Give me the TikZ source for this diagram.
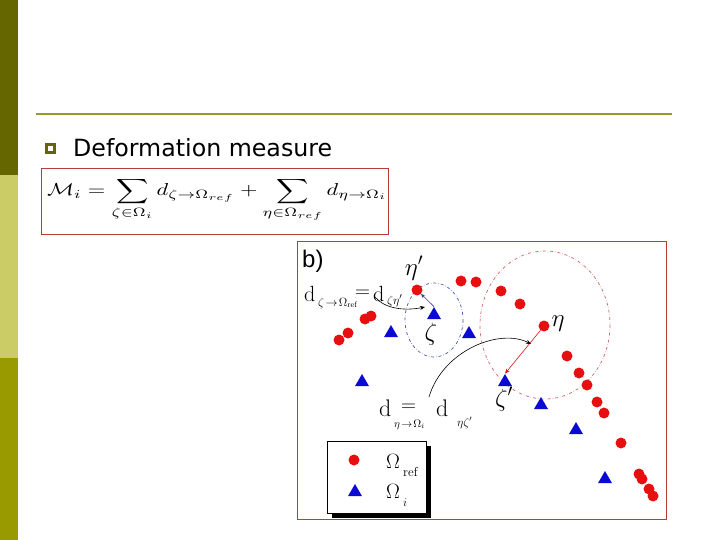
\documentclass[tikz,border=0pt]{standalone}
\usepackage{fontspec}
\usepackage{amsmath}
\newfontfamily\verd{DejaVu Sans}
\newfontfamily\arl{Liberation Sans}
\usetikzlibrary{shapes.geometric,arrows.meta}
\definecolor{darkol}{HTML}{666600}
\definecolor{lightol}{HTML}{CCCC66}
\definecolor{midol}{HTML}{999900}
\definecolor{ruleol}{HTML}{999933}
\definecolor{frame}{RGB}{185,60,60}
\definecolor{dotred}{RGB}{230,16,16}
\definecolor{triblue}{RGB}{10,10,210}
\definecolor{ellblue}{RGB}{80,80,170}
\definecolor{ellred}{RGB}{210,100,100}
\tikzset{
  dotr/.style={circle,fill=dotred,minimum size=11pt,inner sep=0pt},
  trib/.style={regular polygon,regular polygon sides=3,fill=triblue,minimum size=16pt,inner sep=0pt},
  lbl/.style={inner sep=0pt,font=\fontsize{25}{27}\selectfont},
  txt/.style={anchor=base west,inner sep=0pt},
  curvarrow/.style={black,line width=0.6pt,-{Stealth[length=5pt,width=4pt]}},
  framebox/.style={draw=frame,line width=0.8pt},
  dashellipse/.style={dash dot,line width=0.7pt}
}
\begin{document}
\begin{tikzpicture}[x=1pt,y=-1pt]
\useasboundingbox (0,0) rectangle (720,540);
% sidebar
\fill[darkol] (0,0) rectangle (18,175);
\fill[lightol] (0,175) rectangle (18,358);
\fill[midol] (0,358) rectangle (18,540);
% rule
\draw[ruleol,line width=2pt] (36,114) -- (672,114);
% bullet
\draw[darkol,line width=2.6pt] (46.5,144.5) rectangle (54.5,152.5);
\node[txt] (title) at (73,157)
  {\resizebox{259pt}{!}{\verd\fontsize{20}{24}\selectfont Deformation measure}};
% formula box
\draw[framebox] (41,168) rectangle (388,234);
\node[anchor=west,inner sep=0pt] (formula) at (47,199.5)
  {\resizebox*{340pt}{44pt}{$\displaystyle \mathcal{M}_i=\sum_{\zeta\in\Omega_i} d_{\zeta\to\Omega_{ref}}+\sum_{\eta\in\Omega_{ref}} d_{\eta\to\Omega_i}$}};
% diagram frame
\draw[framebox] (297,241) rectangle (666,519);
\node[txt,font=\arl\fontsize{24}{26}\selectfont] (blab) at (302,267) {b)};
% ellipses
\draw[ellblue,dashellipse] (434,320) ellipse [x radius=29,y radius=37];
\draw[ellred,dashellipse] (545,325) ellipse [x radius=65,y radius=74];
% red dots
\node[dotr] (etap) at (417,290) {};
\node[dotr] (r1) at (461,281) {};
\node[dotr] (r2) at (476,282) {};
\node[dotr] (r3) at (365,319) {};
\node[dotr] (r4) at (371,316) {};
\node[dotr] (r5) at (339,340) {};
\node[dotr] (r6) at (348,333) {};
\node[dotr] (r7) at (501,291) {};
\node[dotr] (r8) at (520,304) {};
\node[dotr] (eta) at (544,326) {};
\node[dotr] (r9) at (567,356) {};
\node[dotr] (r10) at (579,373) {};
\node[dotr] (r11) at (587,385) {};
\node[dotr] (r12) at (597,402) {};
\node[dotr] (r13) at (604,413) {};
\node[dotr] (r14) at (621,443) {};
\node[dotr] (r15) at (639,474) {};
\node[dotr] (r16) at (642,479) {};
\node[dotr] (r17) at (649,489) {};
\node[dotr] (r18) at (653,496) {};
% blue triangles
\node[trib] (zeta) at (434,315) {};
\node[trib] (t1) at (391,333) {};
\node[trib] (t2) at (469,334) {};
\node[trib] (t3) at (362,382) {};
\node[trib] (zetap) at (505,382) {};
\node[trib] (t4) at (541,405) {};
\node[trib] (t5) at (576,430) {};
\node[trib] (t6) at (605,479) {};
% straight arrows
\draw[ellblue!80!black,line width=0.6pt,-{Stealth[length=4pt,width=3.5pt]}] (zeta.north) -- (etap);
\draw[dotred,line width=0.6pt,-{Stealth[length=5pt,width=4pt]}] (eta) -- (zetap.north);
% greek labels
\node[lbl,anchor=base] (lbetap) at (414,275) {$\eta'$};
\node[lbl,anchor=base] (lbzeta) at (431,340) {$\zeta$};
\node[lbl,anchor=base] (lbeta) at (558,326) {$\eta$};
\node[lbl,anchor=base] (lbzetap) at (504,406) {$\zeta'$};
% first distance label
\node[txt,font=\fontsize{22}{24}\selectfont] (d1) at (304,301) {$\mathrm{d}$};
\node[txt,font=\fontsize{12}{13}\selectfont] (d1s) at (318,306) {$\zeta\!\to\!\Omega_{\mathrm{ref}}$};
\node[txt,font=\fontsize{22}{24}\selectfont] (d1e) at (355,297) {$=$};
\node[txt,font=\fontsize{22}{24}\selectfont] (d1b) at (373,301) {$\mathrm{d}$};
\node[txt,font=\fontsize{13}{14}\selectfont] (d1bs) at (387,304) {$\zeta\eta'$};
% second distance label
\node[txt,font=\fontsize{24}{26}\selectfont] (d2) at (379,416) {$\mathrm{d}$};
\node[txt,font=\fontsize{11}{12}\selectfont] (d2s) at (394,427) {$\eta\!\to\!\Omega_{i}$};
\node[txt,font=\fontsize{22}{24}\selectfont] (d2e) at (401,411) {$=$};
\node[txt,font=\fontsize{24}{26}\selectfont] (d2b) at (436,416) {$\mathrm{d}$};
\node[txt,font=\fontsize{12}{13}\selectfont] (d2bs) at (457,426) {$\eta\zeta'$};
% curved arrows
\coordinate (c1s) at (375,297);
\coordinate (c1e) at (425,307);
\draw[curvarrow] (c1s) .. controls (385,309) and (405,311) .. (c1e);
\coordinate (c2s) at (429,397);
\coordinate (c2e) at (531,344);
\draw[curvarrow] (c2s) .. controls (443,350) and (500,328) .. (c2e);
% legend
\fill[black] (332,446) rectangle (431,518);
\draw[black,fill=white,line width=0.8pt] (327,441) rectangle (426,513);
\node[dotr] (legdot) at (354,460) {};
\node[trib] (legtri) at (355,492) {};
\node[txt,font=\fontsize{22}{24}\selectfont] (legref) at (386,468) {$\Omega$};
\node[txt,font=\fontsize{13}{14}\selectfont] (legrefs) at (403,476) {ref};
\node[txt,font=\fontsize{22}{24}\selectfont] (legi) at (386,498) {$\Omega$};
\node[txt,font=\fontsize{13}{14}\selectfont] (legis) at (403,506) {$i$};
\end{tikzpicture}
\end{document}
